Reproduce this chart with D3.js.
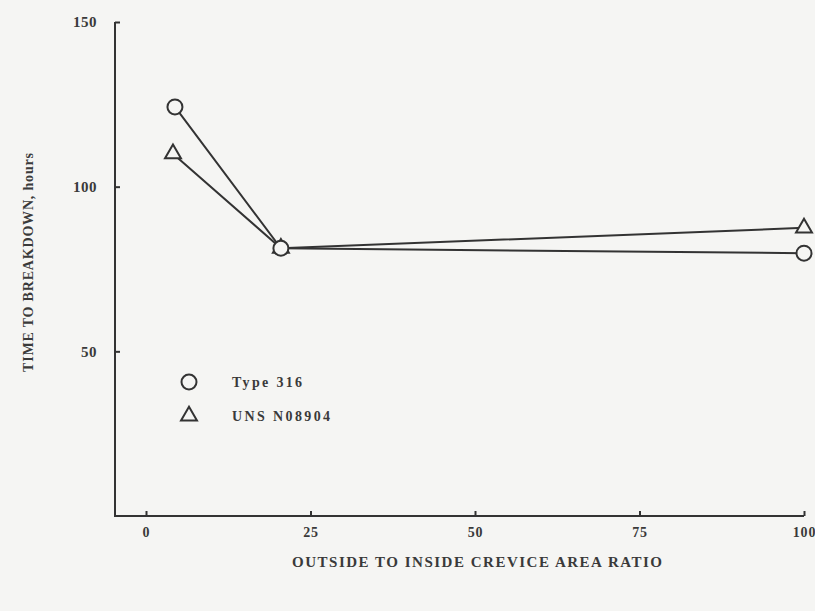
<!DOCTYPE html>
<html>
<head>
<meta charset="utf-8">
<script src="https://cdn.jsdelivr.net/npm/d3@7"></script>
<style>
  html, body { margin: 0; padding: 0; background: #f5f5f3; }
  svg { display: block; }
  text { font-family: "Liberation Serif", "DejaVu Serif", serif; fill: #3a3a3a; font-weight: bold; }
</style>
</head>
<body>
<svg id="chart" width="815" height="611"></svg>
<script>
// Crevice area ratio vs. time to breakdown
const ratios316 = [4.4, 20.5, 100];
const hours316 = [124.2, 81.3, 79.8];
const ratiosN08904 = [4.1, 20.5, 100];
const hoursN08904 = [110, 81.3, 87.5];
const xTicks = [0, 25, 50, 75, 100];
const yTicks = [50, 100, 150];
const legendLabels = ["Type 316", "UNS N08904"];

const svg = d3.select("#chart");
const ink = "#333";
const paper = "#f5f5f3";

const x = d3.scaleLinear().domain([0, 100]).range([146, 804]);
const y = d3.scaleLinear().domain([0, 150]).range([516, 22]);

// axes frame
svg.append("line").attr("x1", 115).attr("x2", 115).attr("y1", y(150)).attr("y2", y(0))
  .attr("stroke", ink).attr("stroke-width", 2);
svg.append("line").attr("x1", 114).attr("x2", x(100)).attr("y1", y(0)).attr("y2", y(0))
  .attr("stroke", ink).attr("stroke-width", 2);

// y ticks (inward) and labels
const yAxis = d3.axisLeft(y).tickValues(yTicks).tickSize(-5);
const gy = svg.append("g").attr("transform", "translate(115,0)").call(yAxis);
gy.select(".domain").remove();
gy.selectAll(".tick line").attr("stroke", ink).attr("stroke-width", 2);
gy.selectAll(".tick text").attr("font-size", 15).attr("font-family", "Liberation Serif, serif")
  .attr("font-weight", "bold").attr("fill", "#3a3a3a").attr("x", -18).attr("letter-spacing", 0.5);

// x ticks (inward) and labels
const xAxis = d3.axisBottom(x).tickValues(xTicks).tickSize(-5);
const gx = svg.append("g").attr("transform", `translate(0,${y(0)})`).call(xAxis);
gx.select(".domain").remove();
gx.selectAll(".tick line").attr("stroke", ink).attr("stroke-width", 2);
gx.selectAll(".tick text").attr("font-size", 14).attr("font-family", "Liberation Serif, serif")
  .attr("font-weight", "bold").attr("fill", "#3a3a3a").attr("y", 11).attr("letter-spacing", 0.8);

// axis titles
svg.append("text").attr("x", 292).attr("y", 567)
  .attr("font-size", 15).attr("textLength", 370).attr("lengthAdjust", "spacing")
  .text("OUTSIDE TO INSIDE CREVICE AREA RATIO");
svg.append("text").attr("transform", "translate(33,372) rotate(-90)")
  .attr("font-size", 14).attr("textLength", 219).attr("lengthAdjust", "spacing")
  .text("TIME TO BREAKDOWN, hours");

const line = d3.line().x(d => x(d[0])).y(d => y(d[1]));
const pts316 = ratios316.map((r, i) => [r, hours316[i]]);
const ptsN = ratiosN08904.map((r, i) => [r, hoursN08904[i]]);

svg.append("path").attr("d", line(pts316)).attr("fill", "none").attr("stroke", ink).attr("stroke-width", 2);
svg.append("path").attr("d", line(ptsN)).attr("fill", "none").attr("stroke", ink).attr("stroke-width", 2);

const tri = d3.symbol().type(d3.symbolTriangle).size(110);

function circleAt(cx, cy) {
  svg.append("circle").attr("cx", cx).attr("cy", cy).attr("r", 7.5)
    .attr("fill", paper).attr("stroke", ink).attr("stroke-width", 2);
}
function triAt(cx, cy) {
  svg.append("path").attr("d", tri()).attr("transform", `translate(${cx},${cy})`)
    .attr("fill", paper).attr("stroke", ink).attr("stroke-width", 2);
}

ptsN.forEach(d => triAt(x(d[0]), y(d[1])));
pts316.forEach(d => circleAt(x(d[0]), y(d[1])));

// legend
circleAt(189, 382);
triAt(189, 416);
svg.append("text").attr("x", 232).attr("y", 387).attr("font-size", 14)
  .attr("textLength", 70).attr("lengthAdjust", "spacing").text(legendLabels[0]);
svg.append("text").attr("x", 232).attr("y", 421).attr("font-size", 14)
  .attr("textLength", 98).attr("lengthAdjust", "spacing").text(legendLabels[1]);
</script>
</body>
</html>
